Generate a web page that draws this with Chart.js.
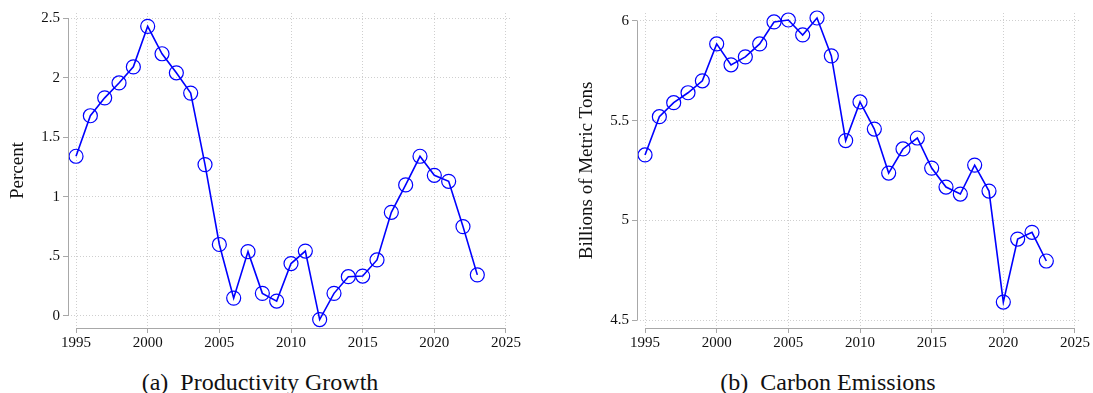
<!DOCTYPE html>
<html>
<head>
<meta charset="utf-8">
<script src="https://cdn.jsdelivr.net/npm/chart.js@4.4.1/dist/chart.umd.min.js"></script>
<style>
  html, body { margin: 0; padding: 0; background: #fff; }
  body { width: 1093px; height: 393px; position: relative; overflow: hidden; }
  .panel { position: absolute; top: 0; height: 356px; }
  .caption { position: absolute; font-family: "Liberation Serif", serif; font-size: 24px; line-height: 27px; color: #111;
             white-space: pre; transform: translateX(-50%); top: 369px; }
</style>
</head>
<body>
<div class="panel" style="left:0;width:546px"><canvas id="prod"></canvas></div>
<div class="panel" style="left:546px;width:547px"><canvas id="carbon"></canvas></div>
<div class="caption" style="left:260px">(a)  Productivity Growth</div>
<div class="caption" style="left:828px">(b)  Carbon Emissions</div>
<script>
const years = [1995, 1996, 1997, 1998, 1999, 2000, 2001, 2002, 2003, 2004, 2005, 2006, 2007, 2008, 2009,
               2010, 2011, 2012, 2013, 2014, 2015, 2016, 2017, 2018, 2019, 2020, 2021, 2022, 2023];

// productivity growth, percent
const productivity = [1.34, 1.68, 1.83, 1.955, 2.09, 2.43, 2.20, 2.04, 1.87, 1.27, 0.60, 0.15, 0.54, 0.19, 0.125,
                      0.44, 0.545, -0.03, 0.19, 0.33, 0.335, 0.47, 0.87, 1.10, 1.34, 1.18, 1.13, 0.75, 0.345];

// carbon emissions, billions of metric tons
const emissions = [5.328, 5.52, 5.59, 5.64, 5.70, 5.885, 5.78, 5.82, 5.885, 5.995, 6.005, 5.93, 6.015, 5.825, 5.40,
                   5.594, 5.458, 5.237, 5.358, 5.413, 5.262, 5.167, 5.132, 5.277, 5.147, 4.59, 4.906, 4.94, 4.796];

const xTicks = [1995, 2000, 2005, 2010, 2015, 2020, 2025];
const prodTicks = [0, 0.5, 1, 1.5, 2, 2.5];
const carbonTicks = [4.5, 5, 5.5, 6];

const BLUE = '#0000ff';
const AXIS = '#a8a8a8';
const GRID = '#cfcfcf';
const FONT = '"Liberation Serif", "Times New Roman", serif';

// Stata-like detached axis lines, drawn from the scales' own tick range
const axisLines = {
    id: 'axisLines',
    afterDraw(chart) {
        const { ctx, chartArea } = chart;
        const x = chart.scales.x;
        const y = chart.scales.y;
        const yt = y.ticks.map(t => t.value);
        const xt = x.ticks.map(t => t.value);
        ctx.save();
        ctx.strokeStyle = AXIS;
        ctx.lineWidth = 1;
        ctx.beginPath();
        ctx.moveTo(chartArea.left + 0.5, y.getPixelForValue(Math.min(...yt)));
        ctx.lineTo(chartArea.left + 0.5, y.getPixelForValue(Math.max(...yt)));
        ctx.moveTo(x.getPixelForValue(Math.min(...xt)), chartArea.bottom + 0.5);
        ctx.lineTo(x.getPixelForValue(Math.max(...xt)), chartArea.bottom + 0.5);
        ctx.stroke();
        ctx.restore();
    }
};

const makeChart = (id, values, yTicks, yMin, yMax, yTitle, yWidth, titlePad, padRight, fmt) => {
    const ctx = document.getElementById(id);
    return new Chart(ctx, {
        type: 'line',
        data: {
            datasets: [{
                data: years.map((yr, i) => ({ x: yr, y: values[i] })),
                borderColor: BLUE,
                borderWidth: 1.6,
                pointStyle: 'circle',
                pointRadius: 7,
                pointBorderWidth: 1.2,
                pointBorderColor: BLUE,
                pointBackgroundColor: 'rgba(0,0,0,0)',
                tension: 0,
                clip: false,
            }]
        },
        options: {
            responsive: true,
            maintainAspectRatio: false,
            animation: false,
            layout: { padding: { top: 13, right: padRight, left: 0, bottom: 0 } },
            plugins: { legend: { display: false }, tooltip: { enabled: false } },
            scales: {
                x: {
                    type: 'linear',
                    min: 1994.44,
                    max: 2025.28,
                    afterBuildTicks: (s) => { s.ticks = xTicks.map(v => ({ value: v })); },
                    afterFit: (s) => { s.height = 28; },
                    border: { display: false, dash: [1, 2] },
                    grid: { color: GRID, tickColor: AXIS, tickBorderDash: [], tickLength: 5, lineWidth: 1 },
                    ticks: { color: '#111', font: { family: FONT, size: 15 }, padding: 1, maxRotation: 0, callback: (v) => String(v) },
                },
                y: {
                    type: 'linear',
                    min: yMin,
                    max: yMax,
                    afterBuildTicks: (s) => { s.ticks = yTicks.map(v => ({ value: v })); },
                    afterFit: (s) => { s.width = yWidth; },
                    border: { display: false, dash: [1, 2] },
                    grid: { color: GRID, tickColor: AXIS, tickBorderDash: [], tickLength: 5, lineWidth: 1 },
                    ticks: { color: '#111', font: { family: FONT, size: 15 }, padding: 3, callback: fmt },
                    title: { display: true, text: yTitle, color: '#111', font: { family: FONT, size: 19 }, padding: { top: titlePad, bottom: 0 } },
                },
            },
        },
        plugins: [axisLines],
    });
};

// Stata style: drop the leading zero
const stataFmt = (v) => {
    let s = String(Math.round(v * 100) / 100);
    if (s.startsWith('0.')) s = s.slice(1);
    return s;
};

makeChart('prod', productivity, prodTicks, -0.1007, 2.542, 'Percent', 68, 6.6, 36, stataFmt);
makeChart('carbon', emissions, carbonTicks, 4.46, 6.04, 'Billions of Metric Tons', 91, 29.6, 14, stataFmt);
</script>
</body>
</html>
